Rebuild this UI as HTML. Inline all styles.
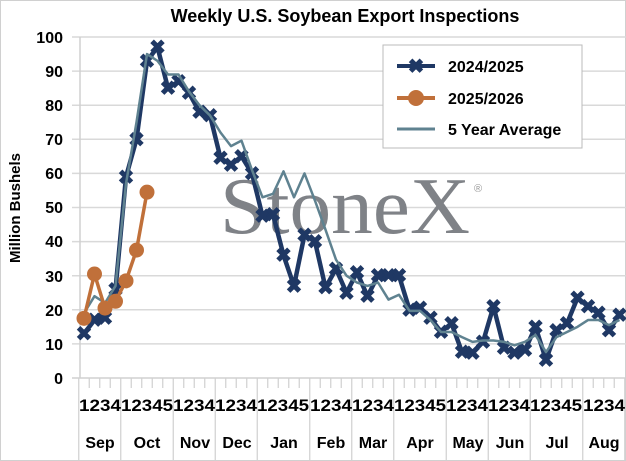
<!DOCTYPE html>
<html><head><meta charset="utf-8"><style>
body{margin:0;background:#fff;}
svg{display:block;font-family:"Liberation Sans",sans-serif;}
</style></head><body>
<svg id="s" width="626" height="461" viewBox="0 0 626 461" xmlns="http://www.w3.org/2000/svg">
<rect x="0.5" y="0.5" width="625" height="460" fill="#fff" stroke="#d0d0d0"/>
<text x="345" y="22" text-anchor="middle" font-size="18" font-weight="bold" fill="#000">Weekly U.S. Soybean Export Inspections</text>
<text transform="translate(20,208) rotate(-90)" text-anchor="middle" font-size="15" font-weight="bold">Million Bushels</text>
<g id="grid"></g>
<g font-size="16" font-weight="bold" text-anchor="end" fill="#000">
<text x="63" y="43">100</text><text x="63" y="77">90</text><text x="63" y="111">80</text><text x="63" y="145">70</text><text x="63" y="179">60</text><text x="63" y="213">50</text><text x="63" y="247">40</text><text x="63" y="282">30</text><text x="63" y="316">20</text><text x="63" y="350">10</text><text x="63" y="384">0</text>
</g>
<text x="220" y="233" font-family="Liberation Serif,serif" font-size="80" fill="#7f8287" textLength="250" lengthAdjust="spacingAndGlyphs">StoneX</text>
<text x="474" y="192" font-size="11" fill="#999">®</text>
<g id="series"></g>
<g font-size="16" font-weight="bold" text-anchor="middle">
<text x="100" y="448">Sep</text><text x="147" y="448">Oct</text><text x="195" y="448">Nov</text><text x="237" y="448">Dec</text><text x="284" y="448">Jan</text><text x="331" y="448">Feb</text><text x="373" y="448">Mar</text><text x="420" y="448">Apr</text><text x="468" y="448">May</text><text x="510" y="448">Jun</text><text x="557" y="448">Jul</text><text x="604" y="448">Aug</text>
</g>
<g font-size="17" font-weight="bold">
<text x="79" y="411" textLength="42" lengthAdjust="spacingAndGlyphs">1234</text>
<text x="121" y="411" textLength="52" lengthAdjust="spacingAndGlyphs">12345</text>
<text x="173" y="411" textLength="42" lengthAdjust="spacingAndGlyphs">1234</text>
<text x="215" y="411" textLength="42" lengthAdjust="spacingAndGlyphs">1234</text>
<text x="257" y="411" textLength="52" lengthAdjust="spacingAndGlyphs">12345</text>
<text x="310" y="411" textLength="42" lengthAdjust="spacingAndGlyphs">1234</text>
<text x="352" y="411" textLength="42" lengthAdjust="spacingAndGlyphs">1234</text>
<text x="394" y="411" textLength="52" lengthAdjust="spacingAndGlyphs">12345</text>
<text x="446" y="411" textLength="42" lengthAdjust="spacingAndGlyphs">1234</text>
<text x="488" y="411" textLength="42" lengthAdjust="spacingAndGlyphs">1234</text>
<text x="530" y="411" textLength="52" lengthAdjust="spacingAndGlyphs">12345</text>
<text x="583" y="411" textLength="42" lengthAdjust="spacingAndGlyphs">1234</text>
</g>
<rect x="383" y="45" width="199" height="103" fill="#fff" stroke="#bbb"/>
<line x1="397" y1="66" x2="435" y2="66" stroke="#1f3864" stroke-width="4"/>
<text x="416" y="73" font-size="20" text-anchor="middle" fill="#1f3864" font-weight="bold">✖</text>
<text x="448" y="72" font-size="16" font-weight="bold">2024/2025</text>
<line x1="397" y1="98" x2="435" y2="98" stroke="#c0703a" stroke-width="4"/>
<circle cx="416" cy="98" r="8" fill="#c0703a"/>
<text x="448" y="104" font-size="16" font-weight="bold">2025/2026</text>
<line x1="397" y1="129" x2="435" y2="129" stroke="#5f8290" stroke-width="3"/>
<text x="448" y="135" font-size="16" font-weight="bold">5 Year Average</text>
</svg>
<script>
var ns="http://www.w3.org/2000/svg",g=document.getElementById('grid'),se=document.getElementById('series');
function el(p,t,a){var e=document.createElementNS(ns,t);for(var k in a)e.setAttribute(k,a[k]);p.appendChild(e);return e;}
function Y(v){return 378-v*3.41;}function X(i){return 84+10.5*i;}
for(var v=10;v<=100;v+=10)el(g,'line',{x1:72,x2:626,y1:Y(v),y2:Y(v),stroke:'#d9d9d9','stroke-width':1.5});
el(g,'line',{x1:80,x2:80,y1:37,y2:378,stroke:'#d0d0d0','stroke-width':1.5});
el(g,'line',{x1:72,x2:626,y1:378,y2:378,stroke:'#d0d0d0','stroke-width':1.5});
var mb=[0,4,9,13,17,22,26,30,35,39,43,48,52];
for(var i=0;i<=52;i++){var x=78.75+10.5*i;var big=mb.indexOf(i)>=0;el(g,'line',{x1:x,x2:x,y1:378,y2:big?460:388,stroke:'#d0d0d0','stroke-width':1.2});}
var a=[13,17,17.6,26,59,70,93,97,85,87,83.6,78,77,64.5,62.5,65,60,47.5,48,36,27,42,40,26.5,32,25,31,24,30,30,30,20,20.5,17.6,13.5,16,7.6,7.3,10.6,21,8.8,7.3,8.2,15,5.3,14,16,23.5,21,19,14,18.5];
var b=[19,24,22,27,57,75,95,93,89,89,84,80,77,72,68,69.6,61,53,54,60.6,53,60,52,43.5,34.7,30,28,27,28,23,24.4,19.7,19.7,17,13.5,13.5,12,10.6,11,11,10.6,9.6,10.6,12.6,7.6,12,13.5,15,17,17,15.5,17];
var c=[17.5,30.5,20.5,22.5,28.5,37.5,54.5];
function pts(d){return d.map(function(v,i){return X(i)+','+Y(v)}).join(' ');}
el(se,'polyline',{points:pts(a),fill:'none',stroke:'#1f3864','stroke-width':4.5,'stroke-linejoin':'round'});
a.forEach(function(v,i){var t=el(se,'text',{x:X(i),y:Y(v)+7,'font-size':20,'text-anchor':'middle',fill:'#1f3864','font-weight':'bold'});t.textContent='\u2716';});
el(se,'polyline',{points:pts(b),fill:'none',stroke:'#5f8290','stroke-width':2.5,'stroke-linejoin':'round'});
el(se,'polyline',{points:pts(c),fill:'none',stroke:'#c0703a','stroke-width':3.5});
c.forEach(function(v,i){el(se,'circle',{cx:X(i),cy:Y(v),r:7.5,fill:'#c0703a'});});
</script>
</body></html>
